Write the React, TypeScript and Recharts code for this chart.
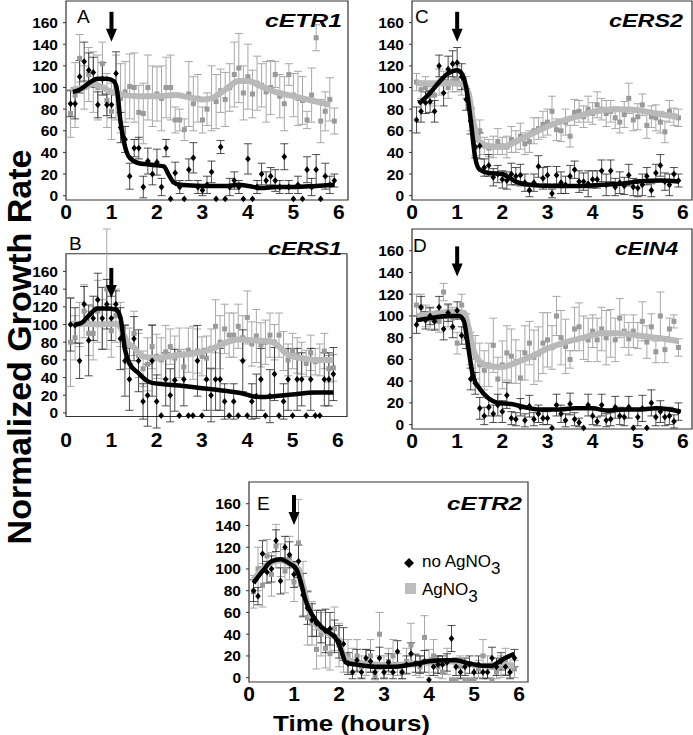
import React from "react";
import {
  ScatterChart,
  Scatter,
  XAxis,
  YAxis,
  ErrorBar,
  ReferenceArea,
  ReferenceDot,
} from "recharts";

const FONT = "'Liberation Sans', Arial, Helvetica, sans-serif";

// sampling times (hours)
const TIMES = [
  0.1, 0.2, 0.3, 0.4, 0.5, 0.6, 0.7, 0.8, 0.9, 1.0,
  1.1, 1.2, 1.3, 1.4, 1.5, 1.6, 1.7, 1.8, 1.9, 2.0,
  2.1, 2.2, 2.3, 2.4, 2.5, 2.6, 2.7, 2.8, 2.9, 3.0,
  3.1, 3.2, 3.3, 3.4, 3.5, 3.6, 3.7, 3.8, 3.9, 4.0,
  4.1, 4.2, 4.3, 4.4, 4.5, 4.6, 4.7, 4.8, 4.9, 5.0,
  5.1, 5.2, 5.3, 5.4, 5.5, 5.6, 5.7, 5.8, 5.9,
];
const X_TICKS = [0, 1, 2, 3, 4, 5, 6];
const Y_TICKS = [0, 20, 40, 60, 80, 100, 120, 140, 160];

// A - cETR1
const A_BLACK = [
  85, 85, 110, 124, 116, 114, 84, 108, 84, 84,
  113, 63, 52, 18, 44, 44, 8, 32, 20, 31,
  8, 44, -3, 21, 8, -3, 24, 35, 8, 5,
  10, 22, -3, 45, -3, 8, 14, 8, -3, 34,
  -3, 8, 20, 14, 18, 14, 8, 36, 8, -3,
  10, -3, 24, 8, 24, -3, 18, 10, 14,
];
const A_BLACK_ERR = [
  12, 14, 15, 18, 16, 14, 12, 15, 10, 12,
  20, 14, 12, 12, 8, 10, 10, 12, 10, 12,
  8, 8, 0, 10, 6, 0, 10, 14, 6, 5,
  8, 10, 0, 6, 0, 8, 8, 6, 0, 14,
  0, 6, 10, 8, 8, 10, 6, 12, 6, 0,
  8, 0, 12, 8, 14, 0, 12, 8, 6,
];
const A_GREY = [
  76, 93, 127, 100, 112, 105, 100, 122, 88, 78,
  100, 90, 96, 101, 100, 77, 76, 100, 92, 94,
  90, 100, 100, 70, 70, 61, 94, 85, 90, 70,
  80, 90, 87, 97, 89, 100, 112, 118, 95, 110,
  94, 104, 102, 96, 100, 112, 92, 85, 112, 93,
  90, 88, 70, 93, 146, 69, 78, 89, 69,
];
const A_GREY_ERR = [
  22, 30, 22, 20, 25, 28, 30, 20, 25, 26,
  30, 32, 28, 30, 32, 25, 28, 30, 28, 25,
  30, 28, 30, 12, 10, 10, 30, 25, 22, 12,
  15, 30, 25, 20, 25, 22, 30, 32, 25, 30,
  22, 25, 20, 28, 25, 12, 20, 25, 10, 20,
  25, 22, 8, 25, 12, 20, 18, 20, 12,
];
const A_BLACK_FIT = [
  [0.15, 96], [0.3, 98], [0.5, 104], [0.7, 108], [0.9, 108], [1.05, 106], [1.12, 98],
  [1.2, 68], [1.3, 45], [1.4, 35], [1.6, 30], [1.8, 29], [2.0, 28], [2.15, 27],
  [2.25, 20], [2.35, 13], [2.5, 10], [3.0, 9], [3.5, 9], [3.8, 10], [4.0, 9],
  [4.3, 7], [4.6, 8], [5.0, 8], [5.5, 9], [5.9, 10],
];
const A_GREY_FIT = [
  [0.1, 98], [0.4, 100], [0.6, 103], [0.8, 100], [1.0, 96], [1.3, 93], [1.6, 92],
  [2.0, 92], [2.4, 93], [2.7, 91], [3.0, 89], [3.2, 90], [3.5, 98], [3.8, 106],
  [4.0, 106], [4.3, 101], [4.6, 96], [5.0, 92], [5.4, 88], [5.8, 84],
];

// B - cERS1
const B_BLACK = [
  100, 99, 59, 123, 82, 107, 128, 107, 123, 107,
  123, 84, 59, 38, 84, 59, 13, 20, 59, 13,
  -3, 38, 20, 37, -3, 38, -3, -3, 59, -3,
  38, 20, 38, 38, 13, -3, 13, -3, 59, -3,
  13, 19, 38, -3, 19, 44, -3, 13, 38, -3,
  38, 38, -3, 38, -3, -3, 38, 38, 44,
];
const B_BLACK_ERR = [
  30, 20, 20, 20, 40, 25, 30, 35, 28, 25,
  15, 35, 40, 35, 25, 35, 20, 35, 40, 30,
  0, 30, 30, 35, 0, 30, 0, 0, 40, 0,
  35, 30, 35, 35, 20, 0, 20, 0, 35, 0,
  20, 25, 35, 0, 30, 30, 0, 20, 35, 0,
  35, 30, 0, 35, 0, 0, 30, 30, 30,
];
const B_GREY = [
  80, 85, 100, 115, 90, 90, 115, 100, 140, 93,
  110, 100, 75, 76, 90, 65, 50, 55, 75, 64,
  60, 69, 75, 62, 68, 52, 71, 68, 70, 64,
  62, 73, 98, 80, 95, 88, 88, 98, 85, 108,
  78, 87, 77, 80, 88, 80, 88, 70, 60, 70,
  65, 62, 56, 68, 58, 60, 70, 50, 51,
];
const B_GREY_ERR = [
  50, 25, 25, 30, 25, 30, 35, 28, 68, 30,
  30, 25, 25, 20, 25, 25, 20, 30, 25, 25,
  25, 30, 20, 25, 28, 20, 25, 30, 25, 22,
  25, 22, 30, 30, 28, 25, 25, 25, 25, 30,
  25, 30, 25, 25, 25, 20, 25, 22, 18, 20,
  20, 18, 15, 20, 15, 18, 20, 15, 15,
];
const B_BLACK_FIT = [
  [0.2, 100], [0.35, 102], [0.5, 110], [0.7, 118], [0.9, 118], [1.1, 117], [1.2, 108],
  [1.3, 72], [1.4, 56], [1.6, 45], [1.8, 36], [1.9, 34], [2.5, 31], [3.0, 28],
  [3.5, 25], [3.9, 22], [4.1, 19], [4.3, 18], [4.6, 19], [5.0, 21], [5.5, 23], [5.9, 23],
];
const B_GREY_FIT = [
  [0.1, 101], [0.4, 101], [0.7, 100], [1.1, 101], [1.2, 97], [1.35, 80], [1.5, 74],
  [1.7, 64], [2.0, 62], [2.4, 65], [2.8, 67], [3.2, 72], [3.5, 79], [3.8, 83],
  [4.2, 82], [4.5, 81], [4.7, 75], [4.9, 66], [5.2, 62], [5.5, 60], [5.9, 60],
];

// C - cERS2
const C_BLACK = [
  70, 78, 86, 87, 78, 120, 95, 117, 122, 123,
  110, 89, 69, 45, 46, 26, 28, 17, 20, 15,
  14, 20, 18, 19, 12, 5, 12, 27, 16, 19,
  2, 19, 12, 10, 18, 24, 13, 13, 11, 15,
  15, 23, 10, 23, 8, 12, 9, 19, 8, 7,
  10, 18, 5, 21, 28, 13, 10, 20, 14,
];
const C_BLACK_ERR = [
  12, 10, 10, 10, 10, 10, 12, 12, 12, 14,
  12, 10, 12, 10, 12, 8, 10, 8, 8, 8,
  8, 10, 8, 10, 8, 6, 8, 10, 10, 8,
  4, 8, 10, 8, 10, 8, 10, 8, 12, 8,
  8, 10, 10, 10, 8, 10, 8, 10, 8, 8,
  10, 8, 6, 8, 10, 8, 10, 6, 6,
];
const C_GREY = [
  105, 98, 100, 93, 93, 105, 105, 100, 106, 108,
  103, 100, 70, 45, 60, 46, 44, 45, 50, 46,
  45, 52, 50, 55, 48, 50, 60, 62, 66, 68,
  78, 61, 60, 68, 55, 77, 78, 73, 80, 76,
  84, 80, 76, 78, 72, 68, 75, 90, 70, 73,
  84, 65, 73, 72, 68, 59, 78, 73, 72,
];
const C_GREY_ERR = [
  8, 8, 10, 8, 10, 12, 10, 10, 10, 12,
  10, 10, 10, 8, 10, 8, 8, 10, 12, 8,
  10, 12, 10, 12, 10, 10, 12, 10, 12, 12,
  14, 10, 10, 12, 10, 12, 10, 10, 12, 10,
  12, 10, 12, 10, 10, 10, 12, 14, 10, 12,
  10, 12, 10, 12, 10, 10, 10, 8, 8,
];
const C_BLACK_FIT = [
  [0.15, 85], [0.4, 95], [0.6, 105], [0.8, 113], [1.0, 116], [1.1, 113], [1.2, 100],
  [1.3, 70], [1.4, 35], [1.5, 24], [1.7, 21], [2.0, 20], [2.1, 18], [2.3, 13],
  [2.6, 10], [3.0, 9], [3.4, 9], [3.8, 9], [4.2, 10], [4.6, 11], [5.0, 13], [5.5, 14], [5.9, 13],
];
const C_GREY_FIT = [
  [0.1, 104], [0.4, 104], [0.8, 104], [1.1, 103], [1.25, 95], [1.35, 70], [1.5, 50],
  [1.7, 46], [2.0, 45], [2.3, 50], [2.6, 56], [3.0, 64], [3.4, 70], [3.8, 75],
  [4.2, 79], [4.6, 80], [5.0, 79], [5.4, 76], [5.9, 73],
];

// D - cEIN4
const D_BLACK = [
  92, 108, 96, 100, 95, 108, 88, 103, 90, 105,
  82, 80, 42, 38, 15, 8, 16, 10, 18, 12,
  27, 6, 5, 16, 4, 17, 5, 10, 6, 6,
  -3, 18, 10, 4, 19, 5, 2, -3, 18, 8,
  3, 18, 4, 5, 16, 8, 7, 16, -3, 7,
  15, -3, 20, 7, 12, 7, 8, 3, 12,
];
const D_BLACK_ERR = [
  8, 10, 8, 8, 8, 10, 10, 8, 10, 8,
  8, 10, 10, 10, 10, 8, 8, 8, 10, 10,
  12, 6, 6, 8, 6, 10, 6, 8, 6, 6,
  0, 10, 8, 6, 10, 6, 4, 0, 10, 8,
  4, 10, 6, 6, 10, 8, 8, 10, 0, 8,
  12, 0, 12, 8, 10, 8, 8, 6, 8,
];
const D_GREY = [
  110, 108, 100, 97, 96, 95, 122, 100, 98, 75,
  110, 90, 70, 62, 55, 50, 55, 73, 42, 55,
  66, 63, 58, 43, 66, 75, 62, 65, 75, 78,
  71, 100, 80, 72, 60, 88, 90, 80, 78, 86,
  78, 88, 80, 84, 78, 98, 86, 79, 86, 82,
  95, 76, 90, 67, 100, 69, 88, 95, 71,
];
const D_GREY_ERR = [
  10, 12, 10, 10, 8, 10, 8, 10, 10, 10,
  10, 12, 15, 20, 20, 18, 20, 25, 20, 22,
  25, 25, 20, 25, 25, 20, 25, 25, 28, 25,
  20, 18, 25, 25, 8, 20, 22, 20, 20, 15,
  20, 20, 25, 22, 20, 18, 15, 15, 15, 12,
  18, 15, 12, 10, 22, 12, 10, 6, 8,
];
const D_BLACK_FIT = [
  [0.1, 96], [0.4, 98], [0.8, 100], [1.05, 100], [1.15, 95], [1.25, 70], [1.35, 45],
  [1.5, 33], [1.7, 24], [1.9, 20], [2.2, 19], [2.5, 16], [2.8, 14], [3.2, 14],
  [3.6, 15], [4.0, 15], [4.3, 13], [4.7, 14], [5.0, 14], [5.4, 15], [5.7, 14], [5.95, 12],
];
const D_GREY_FIT = [
  [0.1, 100], [0.5, 102], [0.9, 104], [1.15, 103], [1.25, 90], [1.35, 70], [1.5, 58],
  [1.7, 54], [2.0, 53], [2.3, 57], [2.6, 62], [3.0, 70], [3.4, 76], [3.8, 80],
  [4.2, 84], [4.6, 84], [5.0, 82], [5.4, 80], [5.9, 77],
];

// E - cETR2
const E_BLACK = [
  80, 75, 114, 97, 100, 126, 89, 120, 113, 95,
  107, 76, 64, 53, 50, 47, 43, 45, 38, 33,
  31, 13, 5, 16, 5, 18, 15, 5, 18, 5,
  14, 5, 24, 5, 12, 22, 13, 12, 15, -2,
  10, 12, 12, 14, 36, 10, 5, 10, 12, 5,
  12, 5, 5, 18, 10, 15, 10, 5, 18,
];
const E_BLACK_ERR = [
  10, 8, 12, 10, 12, 10, 12, 10, 12, 12,
  15, 20, 15, 15, 12, 15, 20, 15, 15, 15,
  15, 10, 6, 10, 6, 8, 10, 6, 10, 6,
  8, 6, 10, 6, 8, 10, 8, 8, 10, 0,
  8, 8, 8, 8, 12, 8, 6, 8, 8, 6,
  8, 6, 6, 10, 8, 8, 8, 6, 8,
];
const E_GREY = [
  79, 100, 85, 112, 95, 121, 108, 98, 110, 88,
  124, 82, 55, 50, 26, 40, 27, 22, 45, 30,
  20, 20, 15, 20, 10, 14, 20, 2, 40, 10,
  15, 20, 12, 5, 15, 30, 12, 10, 37, 14,
  20, 10, 5, 15, -2, -2, 10, -2, -2, -2,
  8, 20, 10, -2, 5, 10, 15, 10, 8,
];
const E_GREY_ERR = [
  15, 20, 20, 15, 20, 20, 15, 20, 20, 18,
  40, 25, 25, 20, 18, 20, 18, 15, 20, 20,
  15, 15, 12, 15, 10, 12, 15, 4, 20, 10,
  12, 15, 10, 6, 12, 20, 10, 10, 20, 12,
  15, 10, 6, 12, 0, 0, 10, 0, 0, 0,
  8, 15, 10, 0, 6, 10, 12, 10, 8,
];
const E_BLACK_FIT = [
  [0.1, 87], [0.3, 98], [0.5, 107], [0.7, 109], [0.9, 105], [1.05, 100], [1.15, 88],
  [1.25, 72], [1.4, 58], [1.6, 47], [1.8, 41], [1.95, 35], [2.05, 25], [2.15, 14],
  [2.4, 12], [2.8, 10], [3.2, 10], [3.6, 12], [4.0, 15], [4.4, 16], [4.6, 16],
  [4.9, 13], [5.2, 11], [5.4, 11], [5.6, 16], [5.9, 22],
];
const E_GREY_FIT = [
  [0.1, 90], [0.3, 100], [0.5, 106], [0.7, 108], [0.9, 105], [1.1, 100], [1.2, 85],
  [1.35, 60], [1.5, 48], [1.8, 40], [2.0, 35], [2.1, 20], [2.3, 15], [2.8, 12],
  [3.2, 11], [3.6, 13], [4.0, 14], [4.4, 15], [4.8, 13], [5.2, 11], [5.6, 12], [5.9, 11],
];

const toPoints = (vals: number[], errs: number[]) =>
  TIMES.map((t, i) => ({ t, v: vals[i], e: errs[i] }));
const toFit = (pairs: number[][]) => pairs.map(([t, v]) => ({ t, v }));

const Diamond = (p: any) => {
  const { cx, cy } = p;
  if (cx == null || cy == null) return <g />;
  return <path d={`M${cx},${cy - 3.4}L${cx + 2.8},${cy}L${cx},${cy + 3.4}L${cx - 2.8},${cy}Z`} fill="#000" />;
};
const Square = (p: any) => {
  const { cx, cy } = p;
  if (cx == null || cy == null) return <g />;
  return <rect x={cx - 2.5} y={cy - 2.5} width={5} height={5} fill="#9a9a9a" />;
};
const NoShape = () => <g />;
const Arrow = (p: any) => {
  const { cx, cy } = p;
  if (cx == null || cy == null) return <g />;
  return (
    <g>
      <rect x={cx - 2} y={cy} width={4} height={19} fill="#000" />
      <path d={`M${cx - 5.5},${cy + 17}L${cx + 5.5},${cy + 17}L${cx},${cy + 30}Z`} fill="#000" />
    </g>
  );
};

const PANELS = [
  { id: "A", x: 66, y: 1, w: 282, h: 199, arrow: 170, black: toPoints(A_BLACK, A_BLACK_ERR), grey: toPoints(A_GREY, A_GREY_ERR), bFit: toFit(A_BLACK_FIT), gFit: toFit(A_GREY_FIT) },
  { id: "B", x: 66, y: 229, w: 281, h: 199, arrow: 164, black: toPoints(B_BLACK, B_BLACK_ERR), grey: toPoints(B_GREY, B_GREY_ERR), bFit: toFit(B_BLACK_FIT), gFit: toFit(B_GREY_FIT) },
  { id: "C", x: 412, y: 1, w: 280, h: 199, arrow: 170, black: toPoints(C_BLACK, C_BLACK_ERR), grey: toPoints(C_GREY, C_GREY_ERR), bFit: toFit(C_BLACK_FIT), gFit: toFit(C_GREY_FIT) },
  { id: "D", x: 412, y: 229, w: 280, h: 200, arrow: 164, black: toPoints(D_BLACK, D_BLACK_ERR), grey: toPoints(D_GREY, D_GREY_ERR), bFit: toFit(D_BLACK_FIT), gFit: toFit(D_GREY_FIT) },
  { id: "E", x: 249, y: 482, w: 279, h: 200, arrow: 168, black: toPoints(E_BLACK, E_BLACK_ERR), grey: toPoints(E_GREY, E_GREY_ERR), bFit: toFit(E_BLACK_FIT), gFit: toFit(E_GREY_FIT) },
];

const Y_W = 46;
const X_H = 26;

function Panel({ p }: { p: (typeof PANELS)[number] }) {
  const W = Y_W + p.w + 2;
  const H = 2 + p.h + X_H;
  return (
    <div style={{ position: "absolute", left: p.x - Y_W, top: p.y - 2, width: W, height: H }}>
      <ScatterChart width={W} height={H} margin={{ top: 2, right: 2, left: 0, bottom: 0 }}>
        <XAxis
          type="number"
          dataKey="t"
          domain={[0, 6.2]}
          ticks={X_TICKS}
          interval={0}
          axisLine={false}
          tickLine={false}
          tickSize={0}
          tickMargin={4}
          height={X_H}
          tick={{ fontSize: 21, fontWeight: 700, fill: "#000", fontFamily: FONT }}
        />
        <YAxis
          type="number"
          dataKey="v"
          domain={[-4, 180]}
          ticks={Y_TICKS}
          interval={0}
          width={Y_W}
          axisLine={false}
          tickSize={3}
          tickMargin={5}
          tickLine={{ stroke: "#333" }}
          tick={{ fontSize: 15.5, fontWeight: 700, fill: "#000", fontFamily: FONT }}
        />
        <ReferenceArea x1={0} x2={6.2} y1={-4} y2={180} fill="none" stroke="#333" strokeWidth={1.2} />
        <Scatter data={p.grey} shape={Square} isAnimationActive={false}>
          <ErrorBar dataKey="e" direction="y" width={4} stroke="#a8a8a8" strokeWidth={1} />
        </Scatter>
        <Scatter
          data={p.gFit}
          shape={NoShape}
          line={{ stroke: "#b9b9b9", strokeWidth: 6 }}
          lineJointType="monotoneX"
          isAnimationActive={false}
        />
        <Scatter data={p.black} shape={Diamond} isAnimationActive={false}>
          <ErrorBar dataKey="e" direction="y" width={4} stroke="#222" strokeWidth={0.8} />
        </Scatter>
        <Scatter
          data={p.bFit}
          shape={NoShape}
          line={{ stroke: "#000", strokeWidth: 4.5 }}
          lineJointType="monotoneX"
          isAnimationActive={false}
        />
        <ReferenceDot x={1} y={p.arrow} shape={Arrow} />
      </ScatterChart>
    </div>
  );
}

const LETTERS = [
  { t: "A", x: 77, y: 23 },
  { t: "B", x: 69, y: 250 },
  { t: "C", x: 415, y: 23 },
  { t: "D", x: 413, y: 252 },
  { t: "E", x: 257, y: 510 },
];
const GENES = [
  { t: "cETR1", x: 265, y: 27, len: 77 },
  { t: "cERS1", x: 268, y: 255, len: 74 },
  { t: "cERS2", x: 609, y: 27, len: 74 },
  { t: "cEIN4", x: 615, y: 255, len: 63 },
  { t: "cETR2", x: 447, y: 510, len: 75 },
];

export default function App() {
  return (
    <div style={{ position: "absolute", left: 0, top: 0, width: 693, height: 735, background: "#fff", overflow: "hidden", fontFamily: FONT }}>
      <style>{`.recharts-surface{overflow:visible}`}</style>
      {PANELS.map((p) => (
        <Panel key={p.id} p={p} />
      ))}
      <svg width={693} height={735} style={{ position: "absolute", left: 0, top: 0, pointerEvents: "none" }} fontFamily={FONT}>
        {LETTERS.map((l) => (
          <text key={l.t} x={l.x} y={l.y} fontSize={19} fill="#000">{l.t}</text>
        ))}
        {GENES.map((g) => (
          <text key={g.t} x={g.x} y={g.y} fontSize={19} fontWeight={700} fontStyle="italic" fill="#000" textLength={g.len} lengthAdjust="spacingAndGlyphs">
            {g.t}
          </text>
        ))}
        <text x={31} y={347} transform="rotate(-90 31 347)" textAnchor="middle" fontSize={34} fontWeight={700} fill="#000">
          Normalized Growth Rate
        </text>
        <text x={273} y={731} fontSize={22} fontWeight={700} fill="#000" textLength={157} lengthAdjust="spacingAndGlyphs">
          Time (hours)
        </text>
        {/* legend */}
        <path d="M409,558L414,563L409,568L404,563Z" fill="#000" />
        <text x={422} y={567} fontSize={17} fill="#000">
          no AgNO<tspan dy={7}>3</tspan>
        </text>
        <rect x={405} y={583} width={11} height={11} fill="#bdbdbd" />
        <text x={422} y={595} fontSize={17} fill="#000">
          AgNO<tspan dy={7}>3</tspan>
        </text>
      </svg>
    </div>
  );
}
